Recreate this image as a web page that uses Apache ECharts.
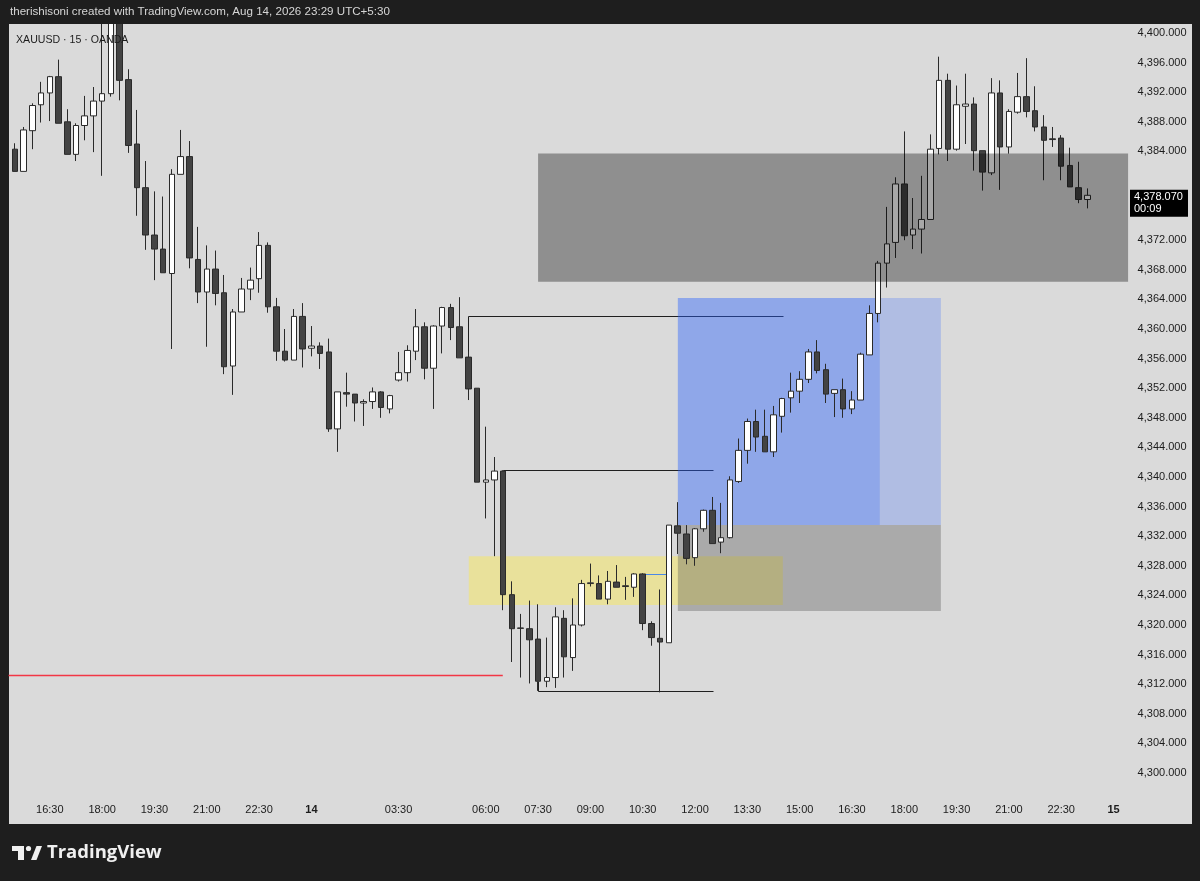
<!DOCTYPE html>
<html>
<head>
<meta charset="utf-8">
<script src="https://cdn.jsdelivr.net/npm/echarts@6/dist/echarts.min.js"></script>
<style>
html,body{margin:0;padding:0;background:#1e1e1e;}
#chart{width:1200px;height:881px;}
</style>
</head>
<body>
<div id="chart"></div>
<script>
// ---- data (XAUUSD 15m, OANDA) ----
const openP = [4384.3,4381.3,4386.8,4390.3,4391.9,4394.1,4388.0,4383.6,4387.5,4388.8,
4390.8,4391.8,4402.6,4393.7,4385.0,4379.1,4372.7,4370.8,4367.5,4380.9,
4383.3,4369.4,4365.0,4368.1,4364.9,4355.0,4362.3,4365.4,4366.8,4371.3,
4363.0,4357.0,4355.8,4361.7,4357.4,4357.7,4356.9,4346.5,4351.4,4351.2,
4350.0,4350.2,4351.5,4349.2,4353.1,4354.1,4357.0,4360.3,4354.7,4360.4,
4362.9,4360.3,4356.2,4352.0,4339.3,4339.6,4340.8,4324.1,4319.6,4319.5,
4318.1,4312.4,4312.9,4320.9,4315.6,4320.0,4325.6,4325.6,4323.5,4325.8,
4325.3,4325.1,4326.9,4320.2,4318.2,4317.6,4333.4,4332.3,4329.1,4333.0,
4335.5,4331.2,4331.8,4339.4,4343.6,4347.5,4345.5,4343.4,4348.2,4350.7,
4351.6,4353.2,4356.9,4354.5,4351.3,4351.8,4349.2,4350.4,4356.5,4362.1,
4368.9,4371.7,4379.6,4372.7,4373.5,4374.8,4384.4,4393.6,4384.3,4390.1,
4390.4,4384.1,4381.1,4391.9,4384.6,4389.3,4391.4,4389.5,4387.3,4385.7,
4385.8,4382.1,4379.1,4377.5];
const closeP = [4381.3,4386.9,4390.2,4391.9,4394.1,4387.8,4383.6,4387.5,4388.8,4390.8,
4391.8,4402.6,4393.6,4384.8,4379.1,4372.7,4370.8,4367.6,4380.9,4383.3,
4369.6,4365.0,4368.1,4364.8,4354.9,4362.3,4365.4,4366.6,4371.3,4363.0,
4357.0,4355.8,4361.7,4357.3,4357.7,4356.7,4346.5,4351.5,4351.2,4350.0,
4350.2,4351.5,4349.4,4351.0,4354.1,4357.1,4360.3,4354.7,4360.4,4362.9,
4360.2,4356.1,4351.9,4339.3,4339.6,4340.8,4324.1,4319.5,4319.55,4318.0,
4312.4,4312.9,4321.1,4315.7,4320.0,4325.6,4325.7,4323.5,4325.9,4325.1,
4325.2,4326.9,4320.2,4318.3,4317.7,4333.5,4332.4,4329.0,4333.0,4335.5,
4331.0,4331.8,4339.6,4343.6,4347.5,4345.4,4343.4,4348.4,4350.6,4351.6,
4353.2,4356.9,4354.4,4351.2,4351.8,4349.2,4350.4,4356.6,4362.1,4368.9,
4371.5,4379.6,4372.6,4373.5,4374.8,4384.3,4393.6,4384.3,4390.3,4390.4,
4384.1,4381.2,4391.9,4384.6,4389.4,4391.4,4389.4,4387.3,4385.5,4385.6,
4382.0,4379.2,4377.5,4378.07];
const lowP = [4381.3,4381.3,4384.3,4387.9,4388.1,4387.8,4383.6,4382.7,4385.5,4383.9,
4380.7,4391.4,4390.9,4383.8,4375.3,4370.7,4366.6,4367.6,4357.3,4380.9,
4368.2,4363.5,4357.6,4363.2,4353.9,4351.1,4362.3,4363.9,4364.9,4362.2,
4355.7,4355.6,4355.8,4354.8,4356.3,4354.6,4346.1,4343.4,4349.5,4347.5,
4346.9,4349.2,4348.0,4348.6,4352.9,4352.9,4355.8,4353.2,4349.2,4356.7,
4358.5,4356.1,4350.4,4339.3,4334.4,4329.3,4322.0,4315.0,4312.9,4312.1,
4311.1,4311.6,4311.5,4312.9,4313.8,4319.8,4325.2,4323.5,4322.8,4325.1,
4323.4,4323.8,4319.3,4317.2,4310.9,4317.6,4329.6,4328.2,4328.0,4332.6,
4331.0,4329.7,4331.7,4339.2,4341.8,4343.4,4343.4,4342.7,4346.0,4348.7,
4350.0,4352.7,4354.0,4350.0,4348.1,4348.0,4348.5,4350.4,4356.5,4360.9,
4365.6,4369.6,4372.0,4370.8,4370.2,4374.8,4383.6,4382.7,4384.1,4385.0,
4381.4,4378.7,4380.8,4378.8,4383.7,4389.1,4388.6,4386.7,4380.1,4384.6,
4380.1,4379.2,4377.0,4376.3];
const highP = [4385.1,4387.3,4390.5,4393.4,4394.2,4396.4,4389.7,4387.8,4391.5,4392.7,
4403.5,4403.5,4403.5,4395.1,4389.6,4382.7,4378.6,4377.9,4381.6,4386.9,
4385.4,4373.8,4371.3,4370.6,4367.3,4362.7,4366.9,4368.3,4373.1,4371.7,
4364.2,4360.0,4362.7,4363.5,4360.4,4358.2,4358.7,4351.5,4354.1,4351.2,
4350.5,4352.1,4351.6,4351.1,4356.9,4357.8,4362.7,4360.9,4360.5,4363.0,
4363.4,4364.3,4357.0,4352.0,4346.8,4342.7,4340.9,4325.9,4321.5,4323.3,
4322.8,4318.3,4322.4,4322.0,4323.6,4326.1,4328.3,4326.7,4327.3,4328.1,
4326.5,4327.0,4327.0,4320.5,4324.8,4333.5,4336.6,4333.5,4333.1,4335.6,
4337.3,4336.5,4340.1,4345.2,4347.9,4349.1,4349.1,4349.6,4350.7,4354.1,
4354.3,4357.3,4358.5,4355.3,4351.8,4353.3,4351.6,4356.8,4363.2,4369.2,
4376.5,4380.5,4386.7,4377.7,4380.7,4386.3,4396.8,4394.5,4392.9,4394.5,
4391.3,4384.1,4393.9,4393.6,4389.7,4394.6,4396.6,4392.8,4388.9,4387.3,
4386.2,4384.5,4382.6,4379.0];

// time ticks shown on the axis (candle index -> label)
const tickIdx = [4,10,16,22,28,34,44,54,60,66,72,78,84,90,96,102,108,114,120,126];
const priceTicks = {min: 4296, max: 4404, step: 4};
const countdown = '00:09';

// drawings: [fromIndex, toIndex, topPrice, bottomPrice]
const supplyZone   = [60, 130, 4383.7, 4366.4];
const yellowZone   = [52.05, 88.07, 4329.3, 4322.7];
const stopZone     = [76.03, 106.2, 4333.5, 4321.9];
const targetZone   = [76.03, 106.2, 4364.2, 4333.5];
const targetFilled = [76.03, 99.2, 4364.2, 4333.5];
// level lines: [fromIndex, toIndex, price]
const redLevel  = [-1, 55.95, 4313.2];
const blueLevel = [72.2, 74.8, 4326.9];
// brackets: [index, price] points
const bracketA = [[52, 4356.3], [52, 4361.8], [88.07, 4361.8]];
const bracketB = [[56, 4340.8], [56, 4341.0], [80.05, 4341.0]];
const bracketC = [[60, 4312.4], [60, 4311.1], [80.05, 4311.1]];

// categories: 15-minute bars from Aug 13 15:30, with the 02:30-03:30 daily break
const categories = [];
for (let i = 0; i < 128; i++) {
  const m = 15 * 60 + 30 + 15 * i + (i >= 44 ? 60 : 0);
  const day = 13 + Math.floor(m / 1440);
  const mm = m % 1440;
  categories.push(mm === 0 ? String(day) :
    String(Math.floor(mm / 60)).padStart(2, '0') + ':' + String(mm % 60).padStart(2, '0'));
}
const candles = openP.map((o, i) => [o, closeP[i], lowP[i], highP[i]]);
const lastClose = closeP[closeP.length - 1];

function fmtPrice(v) {
  const s = v.toFixed(3);
  const [a, b] = s.split('.');
  return a.replace(/\B(?=(\d{3})+(?!\d))/g, ',') + '.' + b;
}

const chart = echarts.init(document.getElementById('chart'), null, {renderer: 'canvas'});

function mk(api) {
  const bw = api.size([1, 0])[0];
  const x0 = api.coord([0, 4350])[0];
  return {X: i => x0 + i * bw, Y: v => api.coord([0, v])[1]};
}
function zoneRect(z, fill, api, cs) {
  const {X, Y} = mk(api);
  const x1 = X(z[0]);
  const x2 = Math.min(X(z[1]), cs.x + cs.width + 1.5);
  return {type: 'rect', shape: {x: x1, y: Y(z[2]), width: x2 - x1, height: Y(z[3]) - Y(z[2])},
          style: {fill: fill}};
}
function bracket(pts, api) {
  const {X, Y} = mk(api);
  return {type: 'polyline', shape: {points: pts.map(p => [Math.round(X(p[0])) + 0.5, Math.round(Y(p[1])) + 0.5])},
          style: {stroke: '#1f1f1f', lineWidth: 1, fill: null}};
}
function level(l, color, w, api, cs) {
  const {X, Y} = mk(api);
  const y = Math.round(Y(l[2])) + 0.5;
  const x1 = l[0] < 0 ? cs.x - 2 : X(l[0]);
  return {type: 'line', shape: {x1: x1, y1: y, x2: X(l[1]), y2: y}, style: {stroke: color, lineWidth: w}};
}

const baseGraphic = [
  {type: 'rect', z: -10, silent: true, shape: {x: 9, y: 24, width: 1183, height: 800}, style: {fill: '#dadada'}},
  {type: 'rect', z: 100, silent: true, shape: {x: 0, y: 0, width: 1200, height: 24}, style: {fill: '#1e1e1e'}},
  {type: 'text', z: 101, silent: true, x: 10, y: 12,
   style: {text: 'therishisoni created with TradingView.com, Aug 14, 2026 23:29 UTC+5:30', fill: '#d6d6d6',
           font: '11.6px "Liberation Sans"', textVerticalAlign: 'middle'}},
  {type: 'text', z: 50, silent: true, x: 16, y: 40,
   style: {text: 'XAUUSD · 15 · OANDA', fill: '#1c1c1c', font: '10.6px "Liberation Sans"', textVerticalAlign: 'middle'}},
  // TradingView logo
  {type: 'group', z: 101, silent: true, children: [
    {type: 'rect', shape: {x: 12, y: 846, width: 12, height: 5}, style: {fill: '#f0f0f0'}},
    {type: 'rect', shape: {x: 18, y: 846, width: 6, height: 14}, style: {fill: '#f0f0f0'}},
    {type: 'circle', shape: {cx: 28.5, cy: 848.5, r: 2.6}, style: {fill: '#f0f0f0'}},
    {type: 'polygon', shape: {points: [[31, 860], [36.5, 846], [42, 846], [36.5, 860]]}, style: {fill: '#f0f0f0'}},
    {type: 'text', x: 47, y: 853, style: {text: 'TradingView', fill: '#f0f0f0',
      font: 'bold 18.5px "Open Sans"', textVerticalAlign: 'middle'}}
  ]}
];

const option = {
  backgroundColor: '#1e1e1e',
  animation: false,
  grid: {left: 10.6, top: 3.4, width: 1116, height: 799.2},
  xAxis: {
    type: 'category', data: categories, boundaryGap: true,
    axisLine: {show: false}, axisTick: {show: false}, splitLine: {show: false},
    axisLabel: {
      interval: (idx) => tickIdx.indexOf(idx) >= 0,
      margin: 2, fontSize: 11, color: '#1c1c1c', fontFamily: 'Liberation Sans',
      formatter: (v) => v.indexOf(':') < 0 ? '{b|' + v + '}' : v,
      rich: {b: {fontWeight: 'bold', fontSize: 11, color: '#1c1c1c', fontFamily: 'Liberation Sans'}}
    }
  },
  yAxis: {
    type: 'value', position: 'right', scale: true,
    min: priceTicks.min, max: priceTicks.max, interval: priceTicks.step,
    splitLine: {show: false}, axisLine: {show: false}, axisTick: {show: false},
    axisLabel: {
      margin: 11, fontSize: 11, color: '#1c1c1c', fontFamily: 'Liberation Sans',
      formatter: (v) => (v < 4300 || v > 4400 || Math.abs(v - lastClose) < 3) ? '' : fmtPrice(v)
    }
  },
  series: [
    {
      type: 'custom', z: 1, silent: true, clip: false,
      data: [[0, 4350]],
      renderItem: (params, api) => {
        const cs = params.coordSys;
        return {type: 'group', children: [
          zoneRect(yellowZone, '#e9e19b', api, cs),
          zoneRect(stopZone, 'rgba(80,80,80,0.34)', api, cs),
          level(redLevel, '#f23645', 1.4, api, cs),
          level(blueLevel, '#4a88e8', 1, api, cs),
          bracket(bracketA, api),
          bracket(bracketB, api),
          bracket(bracketC, api),
          zoneRect(targetFilled, 'rgba(41,98,255,0.42)', api, cs),
          zoneRect([targetFilled[1], targetZone[1], targetZone[2], targetZone[3]], 'rgba(41,98,255,0.24)', api, cs)
        ]};
      }
    },
    {
      type: 'candlestick', z: 2, data: candles, barWidth: 6,
      itemStyle: {color: '#ffffff', color0: '#434343', borderColor: '#2a2a2a', borderColor0: '#2a2a2a', borderWidth: 1}
    },
    {
      type: 'custom', z: 3, silent: true, clip: false,
      data: [[0, 4350]],
      renderItem: (params, api) => zoneRect(supplyZone, 'rgba(0,0,0,0.345)', api, params.coordSys)
    }
  ],
  graphic: baseGraphic
};
chart.setOption(option);

// last-price tag on the price scale
const ly = chart.convertToPixel({yAxisIndex: 0}, lastClose);
chart.setOption({graphic: baseGraphic.concat([
  {type: 'group', z: 60, silent: true, children: [
    {type: 'rect', shape: {x: 1130, y: ly - 5.5, width: 58, height: 27}, style: {fill: '#000000'}},
    {type: 'text', x: 1134, y: ly + 1.5, style: {text: fmtPrice(lastClose), fill: '#ffffff',
      font: '11px "Liberation Sans"', textVerticalAlign: 'middle'}},
    {type: 'text', x: 1134, y: ly + 14, style: {text: countdown, fill: '#ffffff',
      font: '11px "Liberation Sans"', textVerticalAlign: 'middle'}}
  ]}
])});
</script>
</body>
</html>
